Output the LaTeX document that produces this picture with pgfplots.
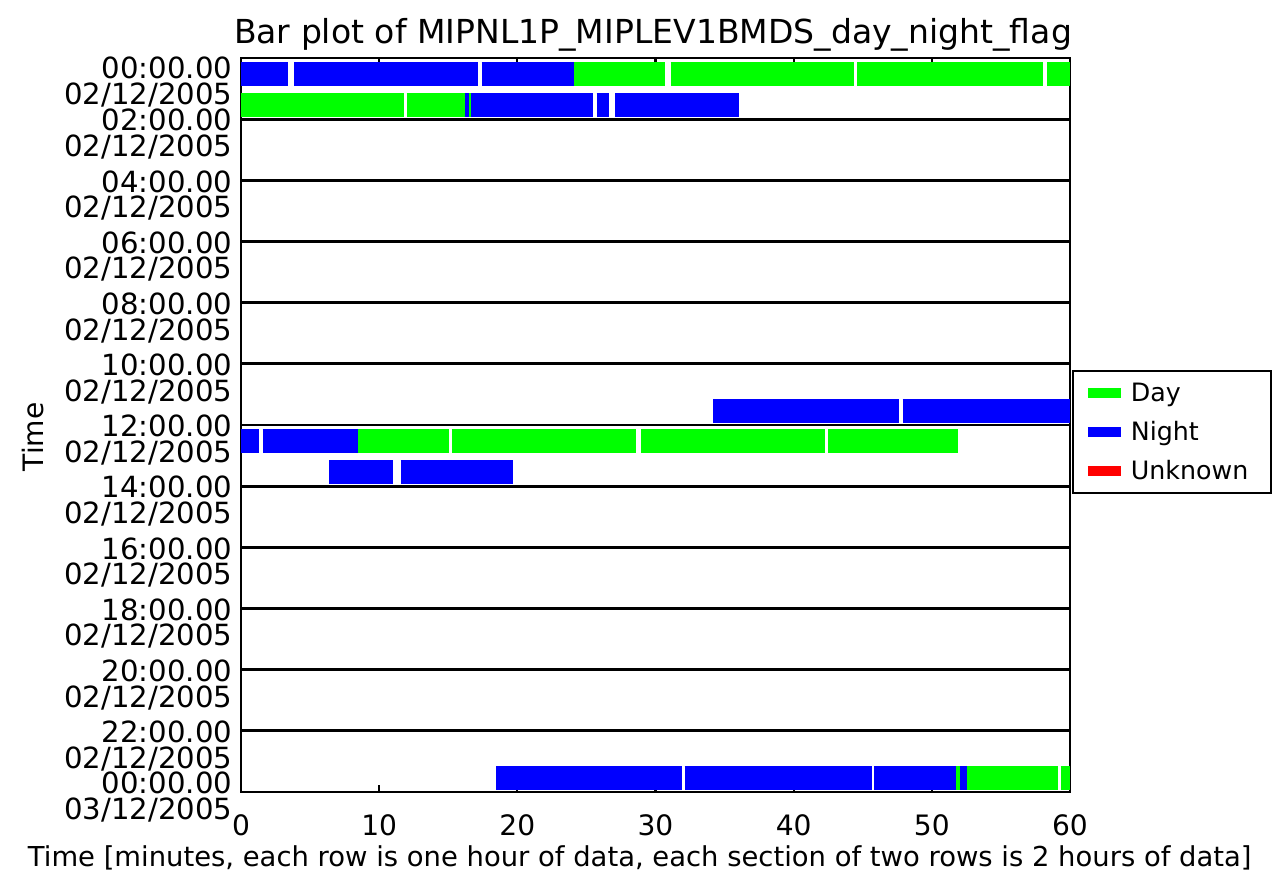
\documentclass[border=0pt]{standalone}
\usepackage{pgfplots}
\pgfplotsset{compat=1.18}
\usepackage{fontspec}
\setmainfont{DejaVu Sans}
\definecolor{dayc}{RGB}{0,255,0}
\definecolor{nightc}{RGB}{0,0,255}
\definecolor{unkc}{RGB}{255,0,0}

% segments: row centre y = hour + 0.535, nan rows break the line
\pgfplotstableread{
x y
24.12 0.535
30.69 0.535
nan nan
31.10 0.535
44.39 0.535
nan nan
44.61 0.535
58.07 0.535
nan nan
58.36 0.535
60 0.535
nan nan
0 1.535
11.80 1.535
nan nan
11.99 1.535
16.22 1.535
nan nan
16.50 1.535
16.65 1.535
nan nan
8.49 12.535
15.05 12.535
nan nan
15.25 12.535
28.56 12.535
nan nan
28.95 12.535
42.27 12.535
nan nan
42.51 12.535
51.92 12.535
nan nan
51.75 23.535
52.04 23.535
nan nan
52.52 23.535
59.15 23.535
nan nan
59.33 23.535
60 23.535
}\daydata

\pgfplotstableread{
x y
0 0.535
3.43 0.535
nan nan
3.86 0.535
17.18 0.535
nan nan
17.42 0.535
24.12 0.535
nan nan
16.22 1.535
16.50 1.535
nan nan
16.65 1.535
25.50 1.535
nan nan
25.74 1.535
26.66 1.535
nan nan
27.07 1.535
36.06 1.535
nan nan
34.19 11.535
47.64 11.535
nan nan
47.89 11.535
60 11.535
nan nan
0 12.535
1.33 12.535
nan nan
1.57 12.535
8.49 12.535
nan nan
6.39 13.535
10.98 13.535
nan nan
11.56 13.535
19.71 13.535
nan nan
18.49 23.535
31.90 23.535
nan nan
32.11 23.535
45.65 23.535
nan nan
45.83 23.535
51.75 23.535
nan nan
52.04 23.535
52.52 23.535
}\nightdata

\begin{document}
\begin{tikzpicture}
\begin{axis}[
  at={(0,0)}, anchor=south west,
  scale only axis, width=8.29cm, height=7.34cm,
  xmin=0, xmax=60, ymin=0, ymax=24, y dir=reverse,
  axis line style={line width=0.7pt},
  unbounded coords=jump,
  xtick={0,10,...,60},
  xtick pos=both, xticklabel pos=lower,
  major tick length=0.07cm,
  tick style={black, line width=0.6pt},
  /pgf/number format/assume math mode=true,
  xticklabel style={font=\fontsize{8}{9}\selectfont, yshift=-0.1cm},
  ytick={0.3,2,4,6,8,10,12,14,16,18,20,22,23.67},
  yticklabels={
    {00:00.00\\02/12/2005},{02:00.00\\02/12/2005},{04:00.00\\02/12/2005},
    {06:00.00\\02/12/2005},{08:00.00\\02/12/2005},{10:00.00\\02/12/2005},
    {12:00.00\\02/12/2005},{14:00.00\\02/12/2005},{16:00.00\\02/12/2005},
    {18:00.00\\02/12/2005},{20:00.00\\02/12/2005},{22:00.00\\02/12/2005},
    {00:00.00\\03/12/2005}},
  ytick style={draw=none},
  yticklabel style={font=\fontsize{8.3}{7.3}\selectfont, align=right,
    anchor=north east, inner sep=0pt, yshift=3pt, xshift=-0.08cm},
  extra y ticks={2,4,6,8,10,12,14,16,18,20,22},
  extra y tick labels={},
  extra y tick style={grid=major, major grid style={black, line width=0.8pt}},
  every axis title shift=0pt,
  title={Bar plot of MIPNL1P\_MIPLEV1BMDS\_day\_night\_flag},
  title style={at={(axis description cs:0.497,1.031)}, anchor=center,
    font=\fontsize{9.4}{10}\selectfont},
  xlabel={Time [minutes, each row is one hour of data, each section of two rows is 2 hours of data]},
  xlabel style={at={(axis description cs:0.481,-0.0899)}, anchor=center,
    font=\fontsize{7.8}{9}\selectfont},
  ylabel={Time},
  ylabel style={at={(axis description cs:-0.251,0.484)}, anchor=center,
    font=\fontsize{8}{9}\selectfont},
  legend image code/.code={\draw[#1, line width=2.8pt] (0cm,0cm) -- (0.33cm,0cm);},
  legend style={at={(axis description cs:1.0024,0.575)}, anchor=north west,
    draw=black, line width=0.6pt, inner xsep=0.1cm, inner ysep=0.025cm,
    font=\fontsize{7.2}{8}\selectfont, row sep=0pt,
    nodes={inner xsep=0.05cm, inner ysep=0.55pt, text height=0.75em,
      text depth=0.25em, text width=1.25cm}},
  legend cell align=left,
]
\addplot[dayc, line width=0.2416cm] table[x=x, y=y] {\daydata};
\addlegendentry{Day}
\addplot[nightc, line width=0.2416cm] table[x=x, y=y] {\nightdata};
\addlegendentry{Night}
\addlegendimage{unkc}
\addlegendentry{Unknown}
\end{axis}
\pgfresetboundingbox
\path[use as bounding box] (-2.41cm,-0.83cm) rectangle (10.43cm,7.92cm);
\end{tikzpicture}
\end{document}
